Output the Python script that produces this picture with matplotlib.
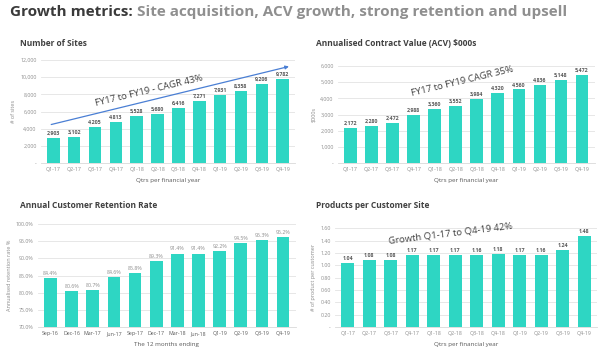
#!/usr/bin/env python3

import numpy as np
from matplotlib import pyplot as plt

plt.rcParams['font.family'] = ['Open Sans', 'DejaVu Sans']

bar_col = '#2ed6c3'
arrow_col = '#4a7fd4'
tick_col = '#8c8c8c'
lab_col = '#595959'

### Data
qtrs = ['Q1-17', 'Q2-17', 'Q3-17', 'Q4-17', 'Q1-18', 'Q2-18', 'Q3-18', 'Q4-18',
        'Q1-19', 'Q2-19', 'Q3-19', 'Q4-19']
ret_periods = ['Sep-16', 'Dec-16', 'Mar-17', 'Jun-17', 'Sep-17', 'Dec-17', 'Mar-18',
               'Jun-18', 'Q1-19', 'Q2-19', 'Q3-19', 'Q4-19']

sites = [2903, 3102, 4205, 4813, 5528, 5680, 6416, 7271, 7931, 8358, 9206, 9782]
acv = [2172, 2280, 2472, 2988, 3360, 3552, 3984, 4320, 4560, 4836, 5148, 5472]
retention = [84.4, 80.6, 80.7, 84.6, 85.8, 89.3, 91.4, 91.4, 92.2, 94.5, 95.3, 96.2]
products = [1.04, 1.08, 1.08, 1.17, 1.17, 1.17, 1.16, 1.18, 1.17, 1.16, 1.24, 1.48]

W, H = 600, 351


def panel(rect, cats, vals, ylim, yticks, yfmt, vfmt, ylabel, xlabel, bold=True):
    ax = plt.axes(rect)
    x = np.arange(len(cats))
    ax.bar(x, vals, width=0.6, color=bar_col, zorder=2)
    for xi, v in zip(x, vals):
        ax.text(xi, v + (ylim[1] - ylim[0]) * 0.02, vfmt(v), ha='center', va='bottom',
                fontsize=3.8, color=lab_col if bold else tick_col,
                fontweight='bold' if bold else 'normal')
    ax.set_xlim(-0.6, len(cats) - 0.4)
    ax.set_ylim(ylim)
    ax.set_yticks(yticks)
    ax.set_yticklabels([yfmt(t) for t in yticks])
    ax.set_xticks(x)
    ax.set_xticklabels(cats)
    ax.tick_params(length=0, labelsize=3.8, colors=tick_col, pad=3)
    ax.grid(axis='y', color='#e3e3e3', lw=0.6, zorder=0)
    for s in ['top', 'right', 'left']:
        ax.spines[s].set_visible(False)
    ax.spines['bottom'].set_color('#d9d9d9')
    ax.spines['bottom'].set_linewidth(0.6)
    ax.set_ylabel(ylabel, fontsize=4, color=tick_col, labelpad=3)
    ax.set_xlabel(xlabel, fontsize=4.5, color=lab_col, labelpad=4)
    return ax


def trend(ax, p0, p1, label, tpos, rot):
    ax.annotate('', xy=p1, xytext=p0,
                arrowprops=dict(arrowstyle='-|>', color=arrow_col, lw=0.9,
                                mutation_scale=5, shrinkA=0, shrinkB=0), zorder=3)
    ax.text(tpos[0], tpos[1], label, rotation=rot, ha='center', va='center',
            fontsize=6.8, color='#404040', zorder=4)


def ptitle(px, py, text):
    fig.text(px / W, 1 - py / H, text, fontsize=6, fontweight='bold',
             color='#404040', ha='left', va='center')


fig = plt.figure(figsize=(6, 3.51), dpi=100)

fig.text(10 / W, 1 - 12 / H, 'Growth metrics:', fontsize=11, fontweight='bold',
         color='#3a3a3a', ha='left', va='center')
fig.text(137 / W, 1 - 12 / H, 'Site acquisition, ACV growth, strong retention and upsell',
         fontsize=11, fontweight='bold', color='#8f8f8f', ha='left', va='center')

ptitle(20, 44, 'Number of Sites')
ptitle(316, 44, 'Annualised Contract Value (ACV) $000s')
ptitle(20, 206, 'Annual Customer Retention Rate')
ptitle(316, 206, 'Products per Customer Site')

# Number of Sites
ax1 = panel((0.068, 0.535, 0.424, 0.294), qtrs, sites,
            (0, 12000), np.arange(0, 12001, 2000),
            lambda t: '-' if t == 0 else f'{int(t):,}',
            lambda v: f'{v:,}', '# of sites', 'Qtrs per financial year')
trend(ax1, (-0.1, 4500), (11.3, 11250), 'FY17 to FY19 - CAGR 43%', (4.6, 8450), 13.5)

# ACV
ax2 = panel((0.563, 0.535, 0.428, 0.277), qtrs, acv,
            (0, 6000), np.arange(0, 6001, 1000),
            lambda t: '-' if t == 0 else f'{int(t):,}',
            lambda v: f'{v:,}', '$000s', 'Qtrs per financial year')
trend(ax2, (-0.1, 2900), (11.3, 6400), 'FY17 to FY19 CAGR 35%', (5.3, 5080), 13.5)

# Retention
ax3 = panel((0.063, 0.068, 0.43, 0.294), ret_periods, retention,
            (70, 100), np.arange(70, 100.1, 5),
            lambda t: f'{t:.1f}%', lambda v: f'{v:.1f}%',
            'Annualised retention rate %', 'The 12 months ending', bold=False)
ax3.tick_params(axis='x', colors=lab_col)

# Products per site
ax4 = panel((0.558, 0.068, 0.437, 0.282), qtrs, products,
            (0, 1.6), np.arange(0, 1.61, 0.2),
            lambda t: '-' if t == 0 else f'{t:.2f}',
            lambda v: f'{v:.2f}', '# of product per customer', 'Qtrs per financial year')
trend(ax4, (-0.1, 1.21), (11.3, 1.71), 'Growth Q1-17 to Q4-19 42%', (4.8, 1.515), 7)

plt.savefig('out.png', dpi=100)
